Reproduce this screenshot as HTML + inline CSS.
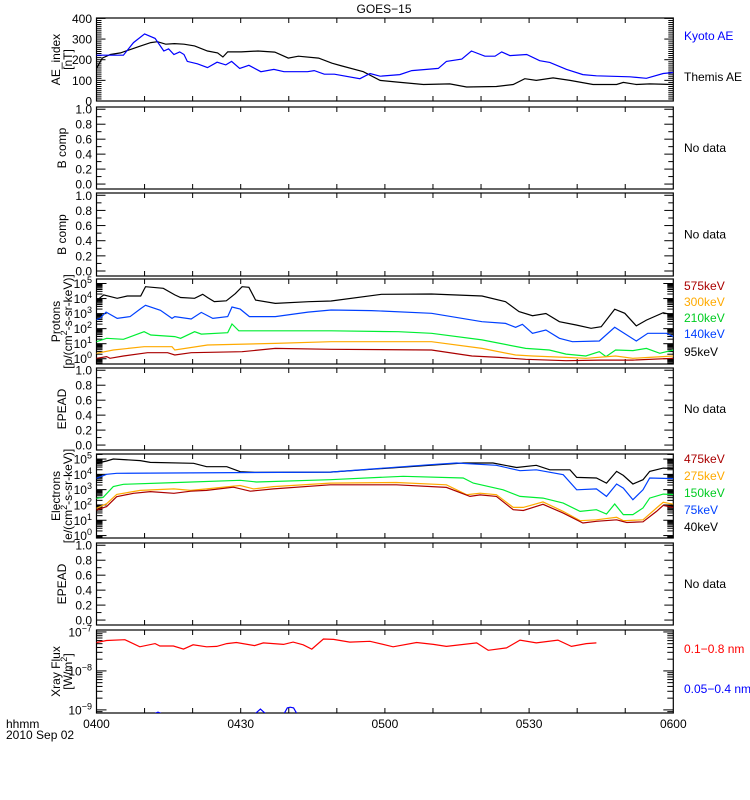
<!DOCTYPE html>
<html><head><meta charset="utf-8">
<style>
html,body{margin:0;padding:0;background:#fff;}
svg{display:block;font-family:"Liberation Sans",sans-serif;}
</style></head>
<body>
<svg id="chart" width="750" height="800" viewBox="0 0 750 800" xmlns="http://www.w3.org/2000/svg">
<rect x="0" y="0" width="750" height="800" fill="#fff"/>
<text x="384" y="13" font-size="12" text-anchor="middle">GOES−15</text>
<g id="layer"></g>
</svg>
<script>
// ---------- data ----------
const kyotoT=[0,5.6,7.7,10,12.2,14,15,16.1,17.3,18.2,18.9,21,23.1,25.1,26.9,28.1,29.8,31.7,34.2,36.9,39,43.9,45.3,47.4,49.5,54.8,56.9,59,63.1,65.6,68.7,71.1,72.8,76,78,80.8,82.9,84.3,86,89.5,92.2,94.3,97.8,101.2,104,111,114.4,117.9,120];
const kyotoAE=[222,222,283,325,303,242,253,225,238,225,192,180,162,188,175,192,158,173,142,153,142,142,147,130,130,108,133,120,128,147,153,158,192,203,242,217,217,238,220,225,195,187,153,128,122,117,110,133,138];
const themisT=[0,1.2,2.9,5,7.1,9.2,11.3,12.7,14.4,16.2,18.2,20.4,23.1,25.2,26.3,27.3,30.1,33.6,37.1,39.9,42,46.2,49,50.7,55.5,59,62.4,68,73.5,77,83.2,86.7,89.1,91.5,95,98.5,103.3,108.2,109.6,112.3,115.1,120];
const themisAE=[158,208,225,233,250,267,283,287,275,278,275,267,242,233,213,238,238,242,237,208,217,208,183,172,142,100,92,80,83,68,70,80,108,100,112,100,80,80,90,80,83,80];

const p95T=[0,0.6,1.5,4.3,6.4,9.2,10.2,13.9,16.3,17.5,20.4,22.1,23.1,24.5,27,28.9,30.3,31.7,33.1,37.2,44.1,48.8,59.3,69.7,80.2,85.1,87.9,90.7,93.5,96.3,99.8,102.9,105,107.8,109.9,112.3,114.4,117.9,120];
const p95=[3.8,4.02,4.24,4.02,4.17,4.17,4.79,4.68,4.24,4.07,4.02,4.28,4.07,3.8,3.85,4.33,4.79,4.75,3.9,3.68,3.79,3.84,4.28,4.3,4.17,3.79,3.13,2.86,3.01,2.46,2.24,2.02,2.13,3.29,3.02,2.18,2.57,3.06,2.9];
const p140T=[0,0.7,2,4.3,7,9.2,10.2,13.3,15.7,16.3,19.7,21.8,24.2,27.3,28.2,29.9,31.8,37.2,44,48.8,57.2,69.7,80.2,85.1,87.2,88.6,90.7,93.5,96.3,99,104.6,107.8,112.3,114.7,118.6,120];
const p140=[2.6,2.68,3.1,2.68,2.8,3.33,3.55,3.22,2.68,2.8,2.64,3.08,2.68,2.8,3.44,3.3,2.8,2.8,3.1,3.24,3.2,3.02,2.46,2.35,2.09,2.29,1.69,1.91,1.36,1.13,1.18,2.09,1.18,1.69,1.69,1.47];
const p210T=[0,2.1,5.6,9.9,11.3,16.3,17.5,20.4,21.8,27.3,28.2,29.6,48.8,62.8,69.7,80.2,89.3,94.2,97.7,101.8,104.6,106,108,111.6,114.4,117.2,120];
const p210=[1.13,1.36,1.29,1.8,1.58,1.47,1.36,1.8,1.64,1.73,2.31,1.86,1.86,1.8,1.69,1.25,0.69,0.58,0.31,0.18,0.47,0.14,0.58,0.54,0.69,0.36,0.58];
const p300T=[0,3.5,9.9,15.7,16.3,23.1,37.2,48.8,69.7,80.2,87.2,90.7,97.7,101.8,108,111.6,115,120];
const p300=[0.36,0.58,0.8,0.8,0.58,0.91,1.02,1.13,1.13,0.69,0.25,0.18,0.09,0.03,0.18,0.03,0.09,0.18];
const p575T=[0,2.1,2.8,5.6,10.6,14.8,16.3,19.7,30.3,37.2,48.8,69.7,78.1,83.7,89.3,97.7,104.6,111.6,120];
const p575=[0.03,0.14,0.03,0.18,0.4,0.4,0.25,0.4,0.47,0.69,0.63,0.58,0.18,0.09,-0.04,-0.13,-0.09,-0.09,0.03];

const e40T=[0,2.1,3.5,9.1,11.2,20.2,22.9,27.1,29.9,33.3,48.6,69.4,76.3,82.5,87.4,91.5,94.3,98.5,99.9,104,106.1,108.2,109.6,111.6,113.7,115.1,117.9,120];
const e40=[4.72,4.87,5.0,4.9,4.78,4.72,4.5,4.5,4.17,4.13,4.15,4.59,4.74,4.74,4.45,4.59,4.3,4.3,3.8,3.76,3.43,4.19,3.93,3.37,3.65,4.19,4.41,4.38];
const e75T=[0,2.1,4.2,48.6,69.4,74.9,83.2,88.1,91.5,97.1,99.9,104,106.1,108.2,109.6,111.6,113.7,115.1,120];
const e75=[3.74,4.0,4.07,4.15,4.63,4.74,4.59,4.24,4.3,3.98,2.99,3.05,2.56,3.37,3.1,2.34,2.99,3.76,3.72];
const e150T=[0,1.4,3.5,5.6,16.1,29.9,33.3,48.6,63.8,76.3,78.4,84.6,88.1,92.9,97.1,100.6,104,106.1,107.8,109.6,111.6,113.7,115.1,117.9,120];
const e150=[2.43,2.5,3.2,3.35,3.46,3.61,3.5,3.65,3.87,3.76,3.43,2.99,2.56,2.45,2.12,1.58,1.69,1.41,2.06,1.37,1.37,1.8,2.45,2.71,2.68];
const e275T=[0,2.1,4.2,9.1,16.1,19.6,22.9,29.9,32.7,36.8,48.6,62.4,72.8,77,79.8,83.2,86.7,88.8,92.9,97.1,100.6,104,108.2,109.6,113.7,116.5,117.9,120];
const e275=[1.78,2.08,2.69,2.95,3.05,2.95,3.05,3.27,3.05,3.2,3.43,3.47,3.32,2.67,2.77,2.67,1.84,1.84,2.2,1.58,0.97,1.03,1.19,0.97,1.03,1.8,2.17,2.05];
const e475T=[0,2.1,4.2,7.7,11.2,16.1,19.6,22.9,28.5,32,36.8,48.6,62.4,72.8,77.7,79.8,83.2,86.7,88.8,92.9,97.1,101.2,104,108.2,110.3,113.7,116.5,117.9,120];
const e475=[1.67,1.89,2.54,2.76,2.87,2.76,2.9,2.95,3.16,2.9,3.05,3.32,3.32,3.15,2.56,2.66,2.56,1.69,1.64,2.04,1.47,0.82,0.93,1.03,0.85,0.9,1.58,1.97,1.84];

const xlongT=[0,2.1,5.9,9,12.2,13.2,16,18.1,20.1,22.9,25,27.1,29.1,32.9,34.7,38.9,40.9,43,44.8,47.2,49.3,52.7,56.9,61.7,66.6,70.1,72.8,79.1,81.5,85.3,88.1,91.5,96,98.8,101.9,104];
const xlong=[-7.27,-7.22,-7.2,-7.38,-7.3,-7.36,-7.36,-7.44,-7.33,-7.38,-7.37,-7.3,-7.27,-7.35,-7.28,-7.32,-7.26,-7.33,-7.44,-7.18,-7.19,-7.26,-7.24,-7.38,-7.27,-7.32,-7.37,-7.28,-7.47,-7.41,-7.21,-7.28,-7.21,-7.37,-7.3,-7.28];
const xshortT=[0,12,12.8,13.6,33,34.1,35.2,39,39.7,40.3,41,41.7,104];
const xshort=[-9.1,-9.1,-9.06,-9.1,-9.1,-8.98,-9.1,-9.1,-8.95,-8.93,-8.95,-9.1,-9.1];

const timeTicks=[0,30,60,90,120];
const timeTickLabels=['0400','0430','0500','0530','0600'];

// ---------- layout ----------
const NS='http://www.w3.org/2000/svg';
const layer=document.getElementById('layer');
const X0=96.5,X1=673.3,TMAX=120;
function xs(t){return X0+(X1-X0)*t/TMAX;}
function mk(tag,attrs,parent){const e=document.createElementNS(NS,tag);for(const k in attrs)e.setAttribute(k,attrs[k]);(parent||layer).appendChild(e);return e;}
function line(x1,y1,x2,y2,p){return mk('line',{x1:x1,y1:y1,x2:x2,y2:y2,stroke:'#000','stroke-width':1},p);}

function panel(name,top,bot,ymin,ymax){
  const g=mk('g',{});
  
  
  const ys=v=>bot-(v-ymin)*(bot-top)/(ymax-ymin);
  const r=mk('rect',{x:X0,y:top,width:X1-X0,height:bot-top,fill:'none',stroke:'#000','stroke-width':1.2},g);
  
  
  for(let t=10;t<TMAX;t+=10){const x=xs(t);line(x,bot,x,bot-5,g);line(x,top,x,top+5,g);}
  const clip=mk('clipPath',{id:'clip-'+name},g);
  mk('rect',{x:X0,y:top,width:X1-X0,height:bot-top},clip);
  return {g,ys,top,bot,clip:'url(#clip-'+name+')'};
}
function series(P,ts,vs,color,name){
  let d='';
  for(let i=0;i<ts.length;i++){d+=(i?'L':'M')+xs(ts[i]).toFixed(1)+','+P.ys(vs[i]).toFixed(1);}
  const p=mk('path',{d:d,fill:'none',stroke:color,'stroke-width':1.2,'clip-path':P.clip},P.g);
  
  
}
function ylabel(P,y,txt,sup){
  const t=mk('text',{x:92,y:y+4.5,'font-size':12,'text-anchor':'end'},P.g);
  
  
  t.textContent=txt;
  if(sup!==undefined){const s=mk('tspan',{dy:-5,'font-size':9},t);s.textContent=sup;}
}
function ytitle(P,lines){
  const cy=(P.top+P.bot)/2;
  lines.forEach((s,i)=>{
    const x=lines.length===1?66:60+i*12;
    const t=mk('text',{x:x,y:cy,'font-size':12,'text-anchor':'middle',transform:'rotate(-90 '+x+' '+cy+')'},P.g);
    
    
    t.innerHTML=s;
  });
}
function rlabel(P,y,txt,color){
  const t=mk('text',{x:684,y:y,'font-size':12,fill:color},P.g);
  
  
  t.textContent=txt;
}
function linPanel(name,top,bot,title){
  const P=panel(name,top,bot,-0.066,1.03);
  for(let k=0;k<=10;k++){const v=k/10,y=P.ys(v),L=(k%2===0)?9:5;line(X0,y,X0+L,y,P.g);line(X1,y,X1-L,y,P.g);}
  for(let k=0;k<=5;k++){ylabel(P,P.ys(k*0.2),(k*0.2).toFixed(1));}
  ytitle(P,[title]);
  rlabel(P,(top+bot)/2+4,'No data','#000');
  return P;
}
function logPanel(name,top,bot,lmin,lmax,labels){
  const P=panel(name,top,bot,lmin,lmax);
  for(let d=Math.floor(lmin);d<=Math.ceil(lmax);d++){
    for(let m=1;m<10;m++){const v=d+Math.log10(m);if(v<lmin||v>lmax)continue;const y=P.ys(v),L=m===1?10:6;line(X0,y,X0+L,y,P.g);line(X1,y,X1-L,y,P.g);}
  }
  labels.forEach(d=>ylabel(P,P.ys(d),'10',String(d).replace('-','−')));
  return P;
}

// AE panel
const AE=panel('ae-index',18,101,0,402);
for(let v=0;v<=400;v+=10){const y=AE.ys(v),L=(v%100===0)?9:5;line(X0,y,X0+L,y,AE.g);line(X1,y,X1-L,y,AE.g);}
[0,100,200,300,400].forEach(v=>ylabel(AE,AE.ys(v),String(v)));
ytitle(AE,['AE_index','[nT]']);
series(AE,themisT,themisAE,'#000','themis-ae-line');
series(AE,kyotoT,kyotoAE,'#0000ff','kyoto-ae-line');
rlabel(AE,40,'Kyoto AE','#0000ff');
rlabel(AE,81,'Themis AE','#000');

linPanel('b-comp-1',107,189,'B comp');
linPanel('b-comp-2',193,276,'B comp');

// Protons
const PR=logPanel('protons',279,364,-0.35,5.3,[0,1,2,3,4,5]);
ytitle(PR,['Protons','[p/(cm<tspan font-size="9" dy="-5">2</tspan><tspan dy="5">-s-sr-keV)]</tspan>']);
series(PR,p95T,p95,'#000','proton-95kev-line');
series(PR,p140T,p140,'#0040ff','proton-140kev-line');
series(PR,p210T,p210,'#00ee33','proton-210kev-line');
series(PR,p300T,p300,'#ffaa00','proton-300kev-line');
series(PR,p575T,p575,'#aa0000','proton-575kev-line');
rlabel(PR,290,'575keV','#aa0000');
rlabel(PR,306,'300keV','#ffaa00');
rlabel(PR,322,'210keV','#00cc22');
rlabel(PR,338,'140keV','#0040ff');
rlabel(PR,356,'95keV','#000');

linPanel('epead-1',368,450,'EPEAD');

// Electrons
const EL=logPanel('electrons',454,538,-0.16,5.33,[0,1,2,3,4,5]);
ytitle(EL,['Electrons','[e/(cm<tspan font-size="9" dy="-5">2</tspan><tspan dy="5">-s-sr-keV)]</tspan>']);
series(EL,e40T,e40,'#000','electron-40kev-line');
series(EL,e75T,e75,'#0040ff','electron-75kev-line');
series(EL,e150T,e150,'#00ee33','electron-150kev-line');
series(EL,e275T,e275,'#ffaa00','electron-275kev-line');
series(EL,e475T,e475,'#aa0000','electron-475kev-line');
rlabel(EL,463,'475keV','#aa0000');
rlabel(EL,480,'275keV','#ffaa00');
rlabel(EL,497,'150keV','#00cc22');
rlabel(EL,514,'75keV','#0040ff');
rlabel(EL,531,'40keV','#000');

linPanel('epead-2',543,625,'EPEAD');

// X-ray
const XR=logPanel('xray-flux',630,713,-9.08,-6.95,[-7,-8,-9]);
ytitle(XR,['Xray Flux','[W/m<tspan font-size="9" dy="-5">2</tspan><tspan dy="5">]</tspan>']);
series(XR,xlongT,xlong,'#ff0000','xray-long-line');
series(XR,xshortT,xshort,'#0000ff','xray-short-line');
rlabel(XR,653,'0.1−0.8 nm','#ff0000');
rlabel(XR,693,'0.05−0.4 nm','#0000ff');

// time axis labels
timeTicks.forEach((t,i)=>{
  const x=xs(t);
  const tl=mk('text',{x:x,y:728,'font-size':12,'text-anchor':'middle'});
  
  
  tl.textContent=timeTickLabels[i];
});
const h=mk('text',{x:6,y:728,'font-size':12});


h.textContent='hhmm';
const dt=mk('text',{x:6,y:739,'font-size':12});


dt.textContent='2010 Sep 02';
</script>
</body></html>
